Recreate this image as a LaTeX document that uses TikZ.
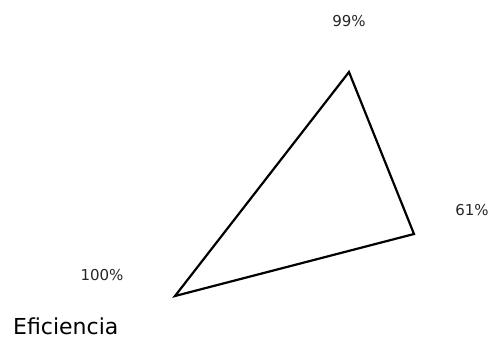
\documentclass[tikz,border=0pt]{standalone}
\usepackage{fontspec}
\setmainfont{DejaVu Sans}
\begin{document}
\begin{tikzpicture}[x=1pt,y=-1pt,
  edge/.style={line width=2.2pt, line join=miter},
  lbl/.style={inner sep=0pt, font=\fontsize{15}{15}\selectfont, text=black!85},
  title/.style={inner sep=0pt, font=\fontsize{22}{22}\selectfont}]
\useasboundingbox (0,0) rectangle (492,338);
\coordinate (A) at (349,72);
\coordinate (B) at (414,234);
\coordinate (C) at (175,296);
\draw[edge] (A) -- (B) -- (C) -- cycle;
\node[lbl] (la) at (349,21) {99\%};
\node[lbl] (lb) at (472,210) {61\%};
\node[lbl] (lc) at (102,275) {100\%};
\node[title, anchor=west] (t) at (13,326) {Eficiencia};
\end{tikzpicture}
\end{document}
